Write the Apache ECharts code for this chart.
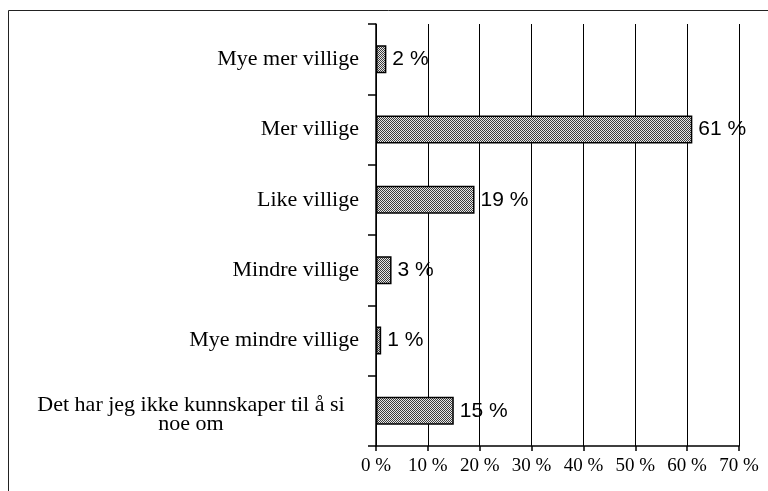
<!DOCTYPE html>
<html>
<head>
<meta charset="utf-8">
<script src="https://cdn.jsdelivr.net/npm/echarts@6/dist/echarts.min.js"></script>
<style>
  html, body { margin: 0; padding: 0; background: #fff; }
  #chart { width: 768px; height: 491px; }
</style>
</head>
<body>
<div id="chart"></div>
<script>
// svar-kategorier og andeler (prosent)
var categories = ['Mye mer villige', 'Mer villige', 'Like villige', 'Mindre villige', 'Mye mindre villige', 'Det har jeg ikke kunnskaper til å si\nnoe om'];
var values = [2, 61, 19, 3, 1, 15];
var tickValues = [0, 10, 20, 30, 40, 50, 60, 70];

// rutemønster for søylene
var pat = document.createElement('canvas');
pat.width = 2;
pat.height = 2;
var ctx = pat.getContext('2d');
ctx.fillStyle = '#e8e8e8';
ctx.fillRect(0, 0, 2, 2);
ctx.fillStyle = '#3c3c3c';
ctx.fillRect(0, 0, 1, 1);
ctx.fillRect(1, 1, 1, 1);

var chart = echarts.init(document.getElementById('chart'));
var option = {
  animation: false,
  graphic: [{
    type: 'rect',
    shape: { x: 8.5, y: 10.5, width: 900, height: 700 },
    style: { fill: 'none', stroke: '#222', lineWidth: 1 }
  }],
  grid: { left: 376, right: 29, top: 24, bottom: 45 },
  xAxis: {
    type: 'value',
    min: 0,
    max: 70,
    interval: 10,
    axisLine: { show: true, lineStyle: { color: '#000', width: 1.5 } },
    axisTick: { show: true, length: 5, lineStyle: { color: '#000', width: 1.5 } },
    splitLine: { show: true, lineStyle: { color: '#000', width: 1 } },
    axisLabel: {
      margin: 11,
      color: '#000',
      fontFamily: 'Liberation Serif',
      fontSize: 19,
      formatter: function (v) { return tickValues.indexOf(v) >= 0 ? v + ' %' : ''; }
    }
  },
  yAxis: {
    type: 'category',
    inverse: true,
    data: categories,
    axisLine: { show: true, lineStyle: { color: '#000', width: 1.5 } },
    axisTick: { show: true, length: 8, lineStyle: { color: '#000', width: 1.5 } },
    axisLabel: {
      margin: 17,
      color: '#000',
      fontFamily: 'Liberation Serif',
      fontSize: 22,
      lineHeight: 19,
      formatter: function (v) {
        if (v.indexOf('\n') >= 0) {
          var lines = v.split('\n');
          return '{e| }\n{a|' + lines[0] + '}\n{a|' + lines[1] + '}';
        }
        return v;
      },
      rich: {
        e: {
          fontSize: 2,
          lineHeight: 7
        },
        a: {
          width: 336,
          align: 'center',
          fontFamily: 'Liberation Serif',
          fontSize: 22,
          lineHeight: 19,
          color: '#000'
        }
      }
    }
  },
  series: [{
    type: 'bar',
    data: values,
    barWidth: 28,
    itemStyle: {
      color: { image: pat, repeat: 'repeat' },
      borderColor: '#000',
      borderWidth: 1.5
    },
    label: {
      show: true,
      position: 'right',
      distance: 6,
      color: '#000',
      fontFamily: 'Liberation Sans',
      fontSize: 21,
      formatter: '{c} %'
    }
  }]
};
chart.setOption(option);
</script>
</body>
</html>
